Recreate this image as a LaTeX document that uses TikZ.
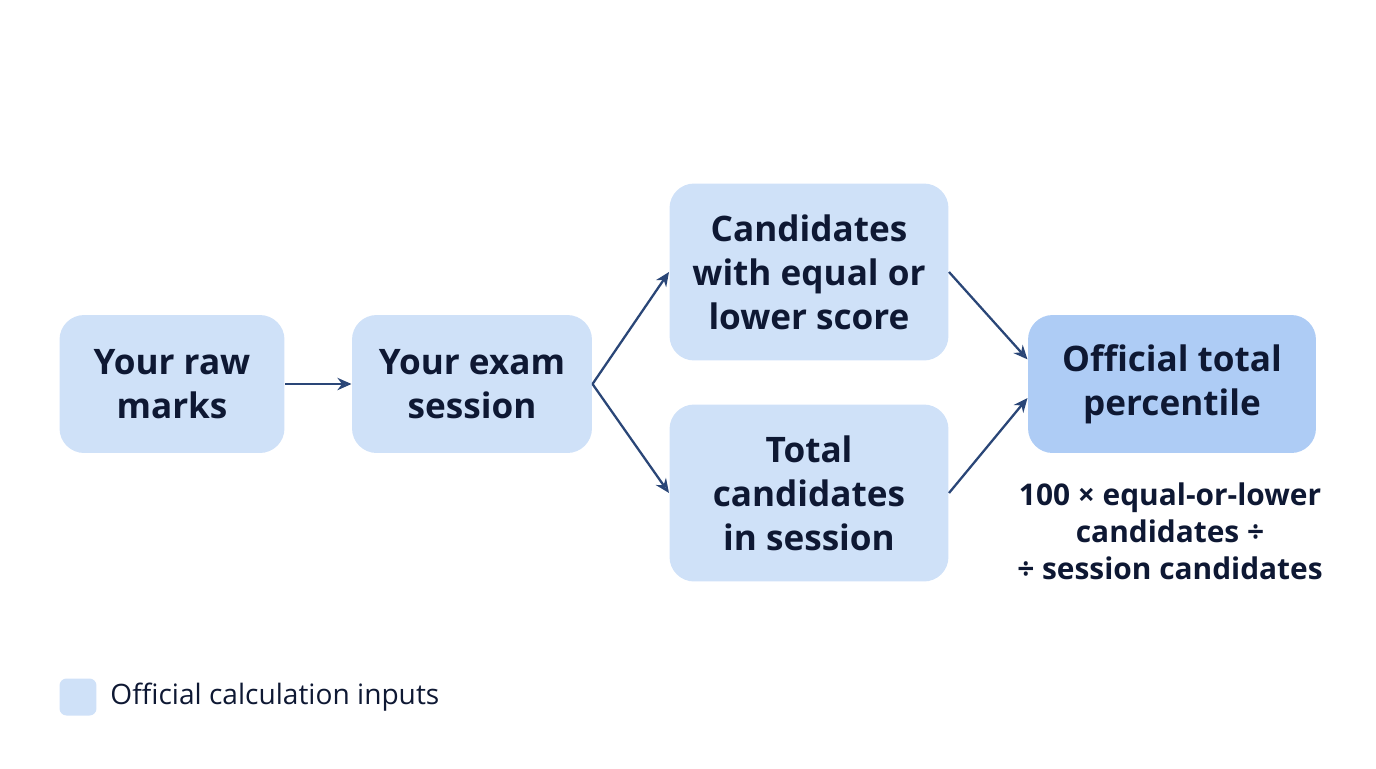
\documentclass[tikz,border=0pt]{standalone}
\usepackage{fontspec}
\setmainfont{Open Sans}
\usetikzlibrary{arrows.meta,positioning}
\definecolor{boxfill}{HTML}{CFE1F8}
\definecolor{outfill}{HTML}{AECCF5}
\definecolor{arrowc}{HTML}{2A4677}
\definecolor{inkc}{HTML}{0E1833}
\begin{document}
\begin{tikzpicture}[x=0.02cm,y=-0.02cm,semithick,
  box/.style={rounded corners=14pt,fill=boxfill,text=inkc,align=center,
    font=\fontsize{20}{25}\selectfont\bfseries,inner sep=0pt},
  flow/.style={-{Stealth[length=8pt,width=7pt,open]},draw=arrowc,line width=1.3pt}]
  \useasboundingbox (0,0) rectangle (1376,768);

  \node[box,minimum width=4.5cm,minimum height=2.76cm] (raw) at (172,384) {Your raw\\marks};
  \node[box,minimum width=4.8cm,minimum height=2.76cm] (sess) at (472,384) {Your exam\\session};
  \node[box,minimum width=5.58cm,minimum height=3.54cm] (eq) at (809,272) {Candidates\\with equal or\\lower score};
  \node[box,minimum width=5.58cm,minimum height=3.54cm] (tot) at (809,493) {Total\\candidates\\in session};
  \node[box,fill=outfill,minimum width=5.76cm,minimum height=2.76cm] (pct) at (1172,384) {Official total\\percentile};
  \node[text=inkc,align=center,font=\fontsize{17}{21}\selectfont\bfseries] (formula) at (1170,531)
    {100 × equal-or-lower\\candidates ÷\\÷ session candidates};

  \draw[flow] (raw) -- (sess);
  \draw[flow] (sess.east) -- (eq.west);
  \draw[flow] (sess.east) -- (tot.west);
  \draw[flow] (eq.east) -- ([yshift=14]pct.west);
  \draw[flow] (tot.east) -- ([yshift=-8]pct.west);

  % legend
  \node[fill=boxfill,rounded corners=4pt,minimum size=0.74cm,inner sep=0pt] (key) at (78,697) {};
  \node[right=4pt of key,text=inkc,font=\fontsize{16}{19}\selectfont] (keytext) {Official calculation inputs};
\end{tikzpicture}
\end{document}
